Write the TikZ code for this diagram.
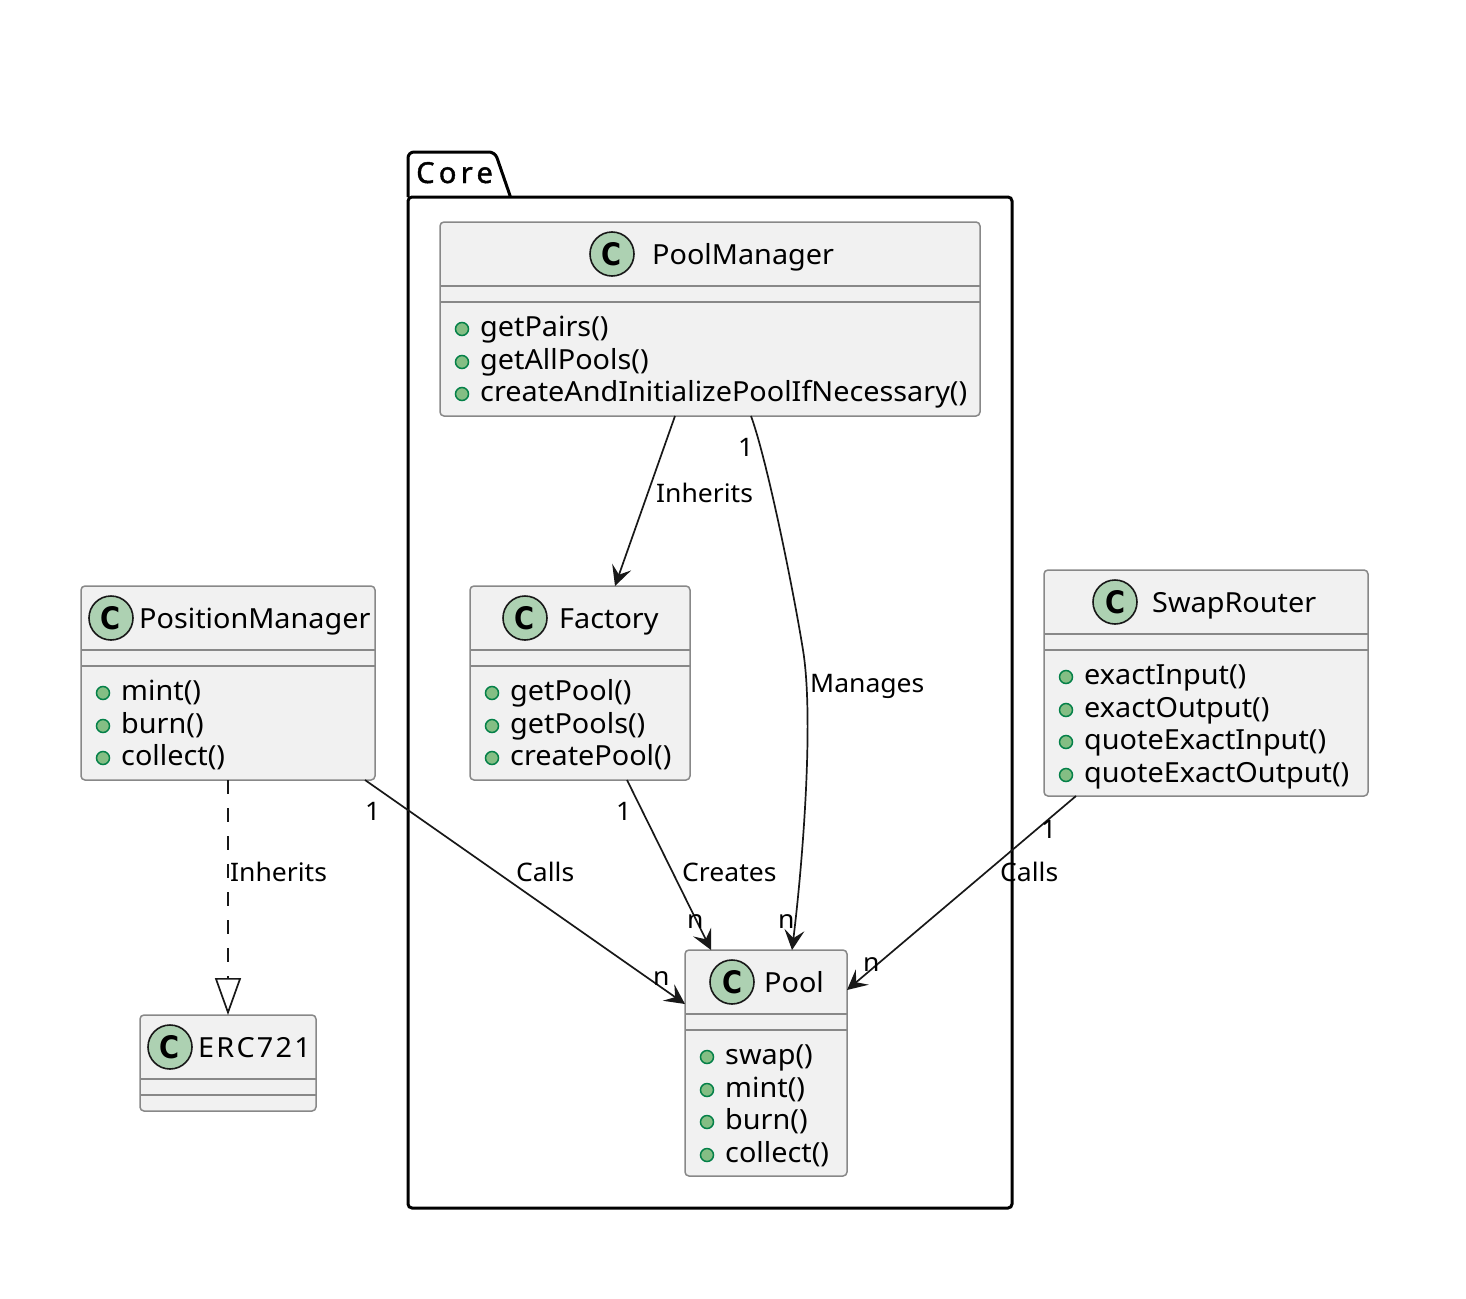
\documentclass[tikz,border=0pt]{standalone}
\usepackage{fontspec}
\setmainfont[FakeStretch=1.04]{Noto Sans}
\newfontfamily\pkgfont[LetterSpace=15,FakeBold=1.5]{Noto Sans}
\newfontfamily\wideface[FakeStretch=1.04,LetterSpace=8]{Noto Sans}
\newfontfamily\spotfont[FakeStretch=0.88]{DejaVu Sans}
\usepackage{xcolor}
\usetikzlibrary{arrows.meta}
\definecolor{boxfill}{HTML}{F1F1F1}
\definecolor{boxline}{HTML}{888888}
\definecolor{inkline}{HTML}{181818}
\definecolor{spotfill}{HTML}{ADD1B2}
\definecolor{dotfill}{HTML}{84BE84}
\definecolor{dotline}{HTML}{038048}

\begin{document}
\begin{tikzpicture}[
  x=1pt, y=-1pt,
  font=\fontsize{27.7}{32}\selectfont,
  classbox/.style={draw=boxline, fill=boxfill, line width=1.5pt, rounded corners=4pt,
                   anchor=north west, inner sep=0pt, outer sep=0pt},
  spot/.style={circle, draw=inkline, fill=spotfill, line width=1.6pt, minimum size=44pt,
               inner sep=0pt, font=\fontsize{31}{31}\spotfont\bfseries},
  classname/.style={anchor=base west, inner sep=0pt},
  member/.style={anchor=base west, inner sep=0pt},
  pubdot/.style={circle, draw=dotline, fill=dotfill, line width=1.5pt, minimum size=13pt, inner sep=0pt},
  rule/.style={draw=boxline, line width=1.5pt},
  tag/.style={anchor=base west, inner sep=0pt, font=\fontsize{25.5}{30}\selectfont, text=black},
  arr/.style={draw=inkline, line width=1.7pt, -{Stealth[length=20pt, width=20pt, inset=8pt]}},
  inh/.style={draw=inkline, line width=1.7pt, dash pattern=on 14pt off 14pt,
              -{Triangle[open, length=37pt, width=26pt, fill=white]}}]
\useasboundingbox (0,0) rectangle (1466,1298);
% package outline with its tab
\node[draw=black, line width=3pt, rounded corners=4pt, anchor=north west, inner sep=0pt, outer sep=0pt,
      minimum width=604pt, minimum height=1011pt] (core) at (408,197) {};
\draw[black, line width=3pt, rounded corners=6pt] (core.north west) -- ++(0,-45) -- ++(87,0) -- ++(15.5,45);
\node[anchor=base west, inner sep=0pt, font=\fontsize{29}{32}\pkgfont] (corename) at (416,183) {Core};

% classes
\node[classbox, minimum width=540pt, minimum height=194pt] (poolmanager) at (440,222) {};
\node[classbox, minimum width=220pt, minimum height=194pt] (factory) at (470,586) {};
\node[classbox, minimum width=162pt, minimum height=226pt] (pool) at (685,950) {};
\node[classbox, minimum width=294pt, minimum height=194pt] (positionmanager) at (81,586) {};
\node[classbox, minimum width=176pt, minimum height=96pt] (erc721) at (140,1015) {};
\node[classbox, minimum width=324pt, minimum height=226pt] (swaprouter) at (1044,570) {};
\foreach \b in {poolmanager,factory,pool,positionmanager,erc721,swaprouter}{
  \draw[rule] ([yshift=-64pt]\b.north west) -- ([yshift=-64pt]\b.north east);
  \draw[rule] ([yshift=-80pt]\b.north west) -- ([yshift=-80pt]\b.north east);
}

% name row of each class
\node[spot] (spot1) at (612,254) {C};
\node[classname] (name1) at (652,264) {PoolManager};
\node[spot] (spot2) at (525,618) {C};
\node[classname] (name2) at (559,628) {Factory};
\node[spot] (spot3) at (732,982) {C};
\node[classname] (name3) at (764,992) {Pool};
\node[spot] (spot4) at (111,618) {C};
\node[classname] (name4) at (139,628) {PositionManager};
\node[spot] (spot5) at (170,1047) {C};
\node[classname, font=\fontsize{27.7}{32}\wideface] (name5) at (198,1057) {ERC721};
\node[spot] (spot6) at (1115,602) {C};
\node[classname] (name6) at (1152,612) {SwapRouter};

% member rows
\foreach \i/\y/\txt in {1/336/getPairs(),2/369/getAllPools(),3/401/createAndInitializePoolIfNecessary()}{
  \node[pubdot] (pmdot\i) at (462,\y-7) {};
  \node[member] (pmrow\i) at (480,\y) {\txt};
}
\foreach \i/\y/\txt in {1/700/getPool(),2/733/getPools(),3/765/createPool()}{
  \node[pubdot] (fadot\i) at (492,\y-7) {};
  \node[member] (farow\i) at (510,\y) {\txt};
}
\foreach \i/\y/\txt in {1/1064/swap(),2/1097/mint(),3/1129/burn(),4/1162/collect()}{
  \node[pubdot] (podot\i) at (707,\y-7) {};
  \node[member] (porow\i) at (725,\y) {\txt};
}
\foreach \i/\y/\txt in {1/700/mint(),2/733/burn(),3/765/collect()}{
  \node[pubdot] (padot\i) at (103,\y-7) {};
  \node[member] (parow\i) at (121,\y) {\txt};
}
\foreach \i/\y/\txt in {1/684/exactInput(),2/717/exactOutput(),3/749/quoteExactInput(),4/782/quoteExactOutput()}{
  \node[pubdot] (srdot\i) at (1066,\y-7) {};
  \node[member] (srrow\i) at (1084,\y) {\txt};
}

% connectors
\draw[arr] ([xshift=235pt]poolmanager.south west) -- ([xshift=145pt]factory.north west);
\draw[arr] ([xshift=311pt]poolmanager.south west) .. controls +(16,44) and +(-10,-62) .. ([xshift=363pt,yshift=-234pt]poolmanager.south west)
  .. controls +(11,68) and +(11,-90) .. ([xshift=107pt]pool.north west);
\draw[arr] ([xshift=157pt]factory.south west) -- ([xshift=26pt]pool.north west);
\draw[arr] ([xshift=284pt]positionmanager.south west) -- ([yshift=-54pt]pool.north west);
\draw[arr] ([xshift=32pt]swaprouter.south west) -- ([yshift=-40pt]pool.north east);
\draw[inh] (positionmanager.south) -- (erc721.north);

% edge labels
\node[tag] (lb1) at (656,502) {Inherits};
\node[tag] (lb2) at (738,456) {1};
\node[tag] (lb3) at (810,692) {Manages};
\node[tag] (lb4) at (616,820) {1};
\node[tag] (lb5) at (682,881) {Creates};
\node[tag] (lb6) at (687,928) {n};
\node[tag] (lb7) at (778,928) {n};
\node[tag] (lb8) at (653,985) {n};
\node[tag] (lb9) at (365,820) {1};
\node[tag] (lb10) at (516,881) {Calls};
\node[tag] (lb11) at (230,881) {Inherits};
\node[tag] (lb12) at (1041,838) {1};
\node[tag] (lb13) at (1000,881) {Calls};
\node[tag] (lb14) at (863,971) {n};
\end{tikzpicture}
\end{document}
